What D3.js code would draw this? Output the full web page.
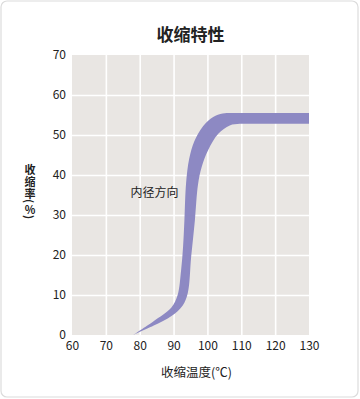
<!DOCTYPE html>
<html>
<head>
<meta charset="utf-8">
<title>收缩特性</title>
<script src="https://d3js.org/d3.v7.min.js"></script>
<style>
  body { margin: 0; background: #fff; }
  svg text { font-family: "Noto Sans CJK SC", "Noto Sans", sans-serif; fill: #222; }
  .grid line { stroke: #fff; stroke-width: 1.6; }
  .grid path { display: none; }
  .axis path, .axis line { display: none; }
</style>
</head>
<body>
<div id="chart"></div>
<script>
// data
const xTicks = [60, 70, 80, 90, 100, 110, 120, 130];
const yTicks = [0, 10, 20, 30, 40, 50, 60, 70];
// top / left edge of the band (temperature, shrinkage %)
const upperEdge = [
  [78, 0], [84, 3.4], [89.3, 6.8], [91.2, 10], [92.2, 16], [92.8, 22], [93.2, 28.7],
  [93.7, 38], [94.6, 44], [96.1, 48.4], [98.7, 52.2], [101.7, 54.5], [104.5, 55.35],
  [107, 55.5], [112, 55.5], [120, 55.5], [131, 55.5]
];
// bottom / right edge of the band
const lowerEdge = [
  [78, 0], [84, 2.3], [89.5, 4.8], [92.7, 7.4], [94.2, 10.5], [95.2, 19.6], [96.3, 28.7],
  [97.2, 37.5], [98.3, 42], [100.2, 46.2], [103.2, 50.3], [106.6, 52.4], [109.6, 52.8],
  [114, 52.8], [122, 52.8], [131, 52.8]
];

const W = 360, H = 399;
const margin = {top: 55, right: 51, bottom: 64, left: 72};
const plotWidth = W - margin.left - margin.right;
const plotHeight = H - margin.top - margin.bottom;

const svg = d3.select("#chart").append("svg")
  .attr("width", W)
  .attr("height", H);

// card
svg.append("rect")
  .attr("x", 1).attr("y", 1)
  .attr("width", W - 3).attr("height", H - 3)
  .attr("rx", 6)
  .attr("fill", "#fff")
  .attr("stroke", "#dcdcdc")
  .attr("stroke-width", 1.2);

const xScale = d3.scaleLinear().domain([60, 130]).range([0, plotWidth]);
const yScale = d3.scaleLinear().domain([0, 70]).range([plotHeight, 0]);

const g = svg.append("g")
  .attr("transform", "translate(" + margin.left + "," + margin.top + ")");

// plot background
g.append("rect")
  .attr("width", plotWidth)
  .attr("height", plotHeight)
  .attr("fill", "#e9e6e3");

// grid lines
g.append("g")
  .attr("class", "grid")
  .attr("transform", "translate(0," + plotHeight + ")")
  .call(d3.axisBottom(xScale).tickValues(xTicks.slice(1, -1)).tickSize(-plotHeight).tickFormat(""));
g.append("g")
  .attr("class", "grid")
  .call(d3.axisLeft(yScale).tickValues(yTicks.slice(1, -1)).tickSize(-plotWidth).tickFormat(""));

// band
g.append("clipPath").attr("id", "plotClip")
  .append("rect").attr("width", plotWidth).attr("height", plotHeight);

const edge = d3.line()
  .x(d => xScale(d[0]))
  .y(d => yScale(d[1]))
  .curve(d3.curveCatmullRom.alpha(0.5));

const bandPath = edge(upperEdge) + "L" + edge(lowerEdge.slice().reverse()).slice(1) + "Z";
g.append("path")
  .attr("d", bandPath)
  .attr("fill", "#8d89c3")
  .attr("clip-path", "url(#plotClip)");

// axes
g.append("g")
  .attr("class", "axis")
  .attr("transform", "translate(0," + plotHeight + ")")
  .call(d3.axisBottom(xScale).tickValues(xTicks).tickSize(0).tickPadding(6))
  .selectAll("text")
  .style("font-size", "12px")
  .style("fill", "#222");

g.append("g")
  .attr("class", "axis")
  .call(d3.axisLeft(yScale).tickValues(yTicks).tickSize(0).tickPadding(6))
  .selectAll("text")
  .style("font-size", "12px")
  .style("fill", "#222");

// title
svg.append("text")
  .attr("x", margin.left + plotWidth / 2)
  .attr("y", 41)
  .attr("text-anchor", "middle")
  .style("font-size", "17px")
  .style("font-weight", "bold")
  .text("收缩特性");

// x axis title
svg.append("text")
  .attr("x", margin.left + plotWidth / 2 + 6)
  .attr("y", 377)
  .attr("text-anchor", "middle")
  .style("font-size", "12.5px")
  .text("收缩温度(℃)");

// y axis title, stacked: 收 缩 率 then (%) with turned brackets
const yTitle = ["收", "缩", "率"];
const yTitleG = svg.append("g");
yTitleG.selectAll("text.ch")
  .data(yTitle)
  .join("text")
  .attr("class", "ch")
  .attr("x", 30)
  .attr("y", (d, i) => 169 + i * 12)
  .attr("text-anchor", "middle")
  .attr("dominant-baseline", "central")
  .style("font-size", "11px")
  .style("font-weight", "bold")
  .text(d => d);

const unitParts = [["(", 201, 90], ["%", 209, 0], [")", 217, 90]];
yTitleG.selectAll("text.unit")
  .data(unitParts)
  .join("text")
  .attr("class", "unit")
  .attr("transform", d => "translate(30," + d[1] + ") rotate(" + d[2] + ")")
  .attr("text-anchor", "middle")
  .attr("dominant-baseline", "central")
  .style("font-size", "11px")
  .style("font-weight", "bold")
  .text(d => d[0]);

// band label
g.append("text")
  .attr("x", xScale(77.3))
  .attr("y", yScale(34.6))
  .style("font-size", "12px")
  .text("内径方向");
</script>
</body>
</html>
